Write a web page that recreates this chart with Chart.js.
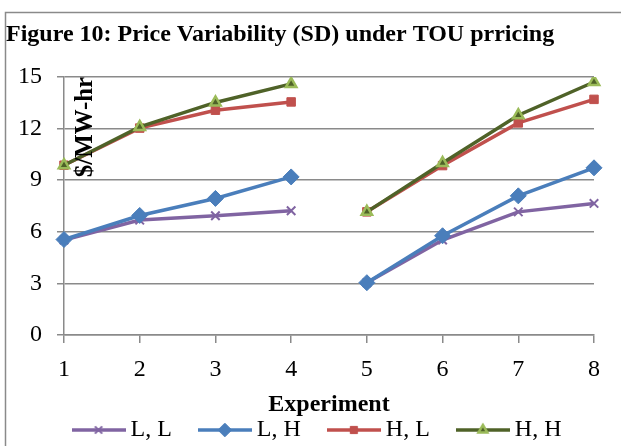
<!DOCTYPE html>
<html><head><meta charset="utf-8">
<script src="https://cdn.jsdelivr.net/npm/chart.js@4/dist/chart.umd.min.js"></script>
<style>html,body{margin:0;padding:0;background:#fff}#wrap{width:621px;height:446px;position:relative}canvas{display:block}</style>
</head><body><div id="wrap"><canvas id="c" width="621" height="446"></canvas></div>
<script>
// ---- data ----
const experiments = ['1', '2', '3', '4', '5', '6', '7', '8'];
const seriesNames = ['L, L', 'L, H', 'H, L', 'H, H'];
const valuesLL = [5.52, 6.68, 6.93, 7.22, 3.04, 5.52, 7.16, 7.65];
const valuesLH = [5.55, 6.95, 7.94, 9.19, 3.04, 5.77, 8.09, 9.72];
const valuesHL = [9.87, 12.03, 13.07, 13.55, 7.16, 9.85, 12.33, 13.70];
const valuesHH = [9.87, 12.10, 13.52, 14.60, 7.16, 10.00, 12.78, 14.71];
const yTicks = [0, 3, 6, 9, 12, 15];
const breakAfterIndex = [3]; // line is not drawn between experiment 4 and 5
const titleText = 'Figure 10: Price Variability (SD) under TOU prricing';
const yTitleText = '$/MW-hr';
const xTitleText = 'Experiment';

// ---- styles ----
const SERIF = '"Liberation Serif", "Times New Roman", serif';
const GRID = '#8a8a8a';
const FS = 24;
const LEGEND_PAD = 33;
const LEGEND_H = FS + LEGEND_PAD + 10;
const X_SCALE_H = 446 - 335 - LEGEND_H;
const X_TITLE_CENTER = 405;
const styles = [
  {line: '#8064A2', pfill: '#8064A2', pborder: '#8064A2', shape: 'crossRot', r: 6, bw: 2},
  {line: '#4A7EBB', pfill: '#4A7EBB', pborder: '#4A7EBB', shape: 'rectRot', r: 8, bw: 1},
  {line: '#C0504D', pfill: '#C0504D', pborder: '#C0504D', shape: 'rect', r: 6, bw: 1},
  {line: '#4F6228', pfill: '#4F6228', pborder: '#9BBB59', shape: 'triangle', r: 6, bw: 2.5}
];
const allValues = [valuesLL, valuesLH, valuesHL, valuesHH];

function legendImage(s) {
  const cv = document.createElement('canvas');
  cv.width = 54; cv.height = 18;
  const c = cv.getContext('2d');
  c.strokeStyle = s.line; c.lineWidth = 3.5;
  c.beginPath(); c.moveTo(0, 9); c.lineTo(54, 9); c.stroke();
  c.fillStyle = s.pfill; c.strokeStyle = s.pborder; c.lineWidth = s.bw;
  Chart.helpers.drawPoint(c, {pointStyle: s.shape, rotation: 0, radius: s.r * 0.85, borderWidth: s.bw}, 27, 9);
  return cv;
}

const datasets = seriesNames.map((name, i) => ({
  label: name,
  data: allValues[i],
  borderColor: styles[i].line,
  backgroundColor: styles[i].pfill,
  borderWidth: 3.5,
  pointStyle: styles[i].shape,
  pointRadius: styles[i].r,
  pointHoverRadius: styles[i].r,
  pointBackgroundColor: styles[i].pfill,
  pointBorderColor: styles[i].pborder,
  pointBorderWidth: styles[i].bw,
  tension: 0,
  order: seriesNames.length - i,
  legendImg: legendImage(styles[i]),
  segment: {
    borderColor: ctx => breakAfterIndex.includes(ctx.p0DataIndex) ? 'rgba(0,0,0,0)' : undefined
  }
}));

const decor = {
  id: 'decor',
  afterLayout(chart) {
    const lg = chart.legend;
    if (lg) { lg.top += 6; lg.bottom += 6; lg.left += 23; lg.right += 23; }
  },
  beforeDraw(chart) {
    const c = chart.ctx;
    c.save();
    c.fillStyle = '#fff'; c.fillRect(0, 0, chart.width, chart.height);
    c.strokeStyle = GRID; c.lineWidth = 1.5;
    c.strokeRect(5.5, 12.5, 700, 500);
    c.fillStyle = '#000';
    c.font = 'bold ' + FS + 'px ' + SERIF;
    c.textBaseline = 'alphabetic'; c.textAlign = 'left';
    c.fillText(titleText, 6, 41);
    c.restore();
  },
  afterDraw(chart) {
    const c = chart.ctx;
    c.save();
    c.fillStyle = '#000';
    c.font = 'bold 25px ' + SERIF;
    c.translate(86, 127);
    c.rotate(-Math.PI / 2);
    c.textAlign = 'center'; c.textBaseline = 'middle';
    c.fillText(yTitleText, 0, 0);
    c.restore();
  }
};

new Chart(document.getElementById('c'), {
  type: 'line',
  data: {labels: experiments, datasets},
  plugins: [decor],
  options: {
    responsive: false,
    animation: false,
    devicePixelRatio: 1,
    layout: {padding: {top: 77, right: 27, left: 0, bottom: 0}},
    plugins: {
      tooltip: {enabled: false},
      title: {display: false},
      legend: {
        display: true,
        position: 'bottom',
        labels: {
          usePointStyle: true,
          pointStyleWidth: 40,
          padding: LEGEND_PAD,
          color: '#000',
          font: {family: SERIF, size: FS},
          sort: (a, b) => a.datasetIndex - b.datasetIndex,
          generateLabels: chart => chart.data.datasets.map((ds, i) => ({
            text: ds.label,
            datasetIndex: i,
            pointStyle: ds.legendImg,
            fillStyle: ds.borderColor,
            strokeStyle: ds.borderColor,
            lineWidth: 0,
            hidden: false,
            fontColor: '#000'
          }))
        }
      }
    },
    scales: {
      x: {
        type: 'category',
        offset: false,
        afterFit: s => { s.height = X_SCALE_H; },
        grid: {drawOnChartArea: false, drawTicks: true, tickLength: 8, color: GRID, lineWidth: 1.5},
        border: {display: true, color: GRID, width: 1.5},
        ticks: {color: '#000', font: {family: SERIF, size: FS}, padding: 12, maxRotation: 0},
        title: {display: true, text: xTitleText, color: '#000', font: {family: SERIF, size: FS, weight: 'bold'},
          padding: {top: 0, bottom: (335 + X_SCALE_H) - X_TITLE_CENTER - FS * 1.2 / 2}}
      },
      y: {
        min: 0, max: 15,
        afterFit: s => { s.width = 64; },
        afterBuildTicks: s => { s.ticks = yTicks.map(v => ({value: v})); },
        grid: {drawTicks: true, tickLength: 7, color: GRID, lineWidth: 1.5},
        border: {display: true, color: GRID, width: 1.5},
        ticks: {color: '#000', font: {family: SERIF, size: FS}, padding: 15}
      }
    }
  }
});
</script></body></html>
